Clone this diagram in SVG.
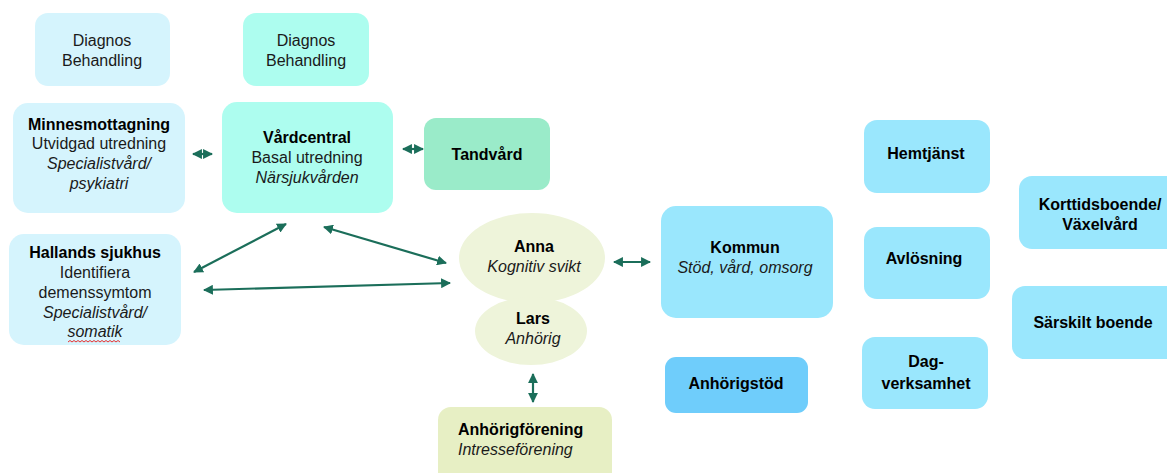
<svg xmlns="http://www.w3.org/2000/svg" width="1167" height="473" viewBox="0 0 1167 473">
<style>
text{font-family:"Liberation Sans",Arial,sans-serif;font-size:16px;fill:#1a1a1a;text-anchor:middle}
.b{font-weight:bold;fill:#000}
.i{font-style:italic}
.l{text-anchor:start}
.spec{fill:#d5f4fd}
.vc{fill:#adfdef}
.tand{fill:#9aebc9}
.pers{fill:#eef4da}
.for{fill:#e7efc4}
.kom{fill:#9ae7fd}
.stod{fill:#6fcdfb}
.c{stroke:#1b6e5a;stroke-width:2.2;fill:none;marker-start:url(#ah);marker-end:url(#ah)}
</style>
<defs>
<marker id="ah" viewBox="0 0 10 10" refX="9" refY="5" markerWidth="4.5" markerHeight="4.5" orient="auto-start-reverse" markerUnits="strokeWidth">
<path d="M0,0 L10,5 L0,10 Z" fill="#1b6e5a"/>
</marker>
</defs>
<rect width="1167" height="473" fill="#fff"/>
<g id="diagnos1"><rect class="spec" x="35" y="13" width="135" height="73" rx="13"/><text x="102" y="46">Diagnos</text><text x="102" y="66">Behandling</text></g>
<g id="diagnos2"><rect class="vc" x="243" y="13" width="126" height="73" rx="13"/><text x="306" y="46">Diagnos</text><text x="306" y="66">Behandling</text></g>
<g id="minnesmottagning"><rect class="spec" x="13" y="103" width="172" height="110" rx="15"/><text class="b" x="99" y="130">Minnesmottagning</text><text x="99" y="149">Utvidgad utredning</text><text class="i" x="99" y="169">Specialistvård/</text><text class="i" x="99" y="189">psykiatri</text></g>
<g id="vardcentral"><rect class="vc" x="222" y="102" width="171" height="111" rx="15"/><text class="b" x="307" y="143">Vårdcentral</text><text x="307" y="163">Basal utredning</text><text class="i" x="307" y="183">Närsjukvården</text></g>
<g id="tandvard"><rect class="tand" x="424" y="118" width="126" height="72" rx="12"/><text class="b" x="487" y="160">Tandvård</text></g>
<g id="hallands"><rect class="spec" x="9" y="234" width="172" height="111" rx="15"/><text class="b" x="95" y="258">Hallands sjukhus</text><text x="95" y="278">Identifiera</text><text x="95" y="298">demenssymtom</text><text class="i" x="95" y="318">Specialistvård/</text><text class="i" x="95" y="337">somatik</text><path d="M68,342 l2,-1.5 l2,1.5 l2,-1.5 l2,1.5 l2,-1.5 l2,1.5 l2,-1.5 l2,1.5 l2,-1.5 l2,1.5 l2,-1.5 l2,1.5 l2,-1.5 l2,1.5 l2,-1.5 l2,1.5 l2,-1.5 l2,1.5 l2,-1.5 l2,1.5 l2,-1.5 l2,1.5 l2,-1.5 l2,1.5 l2,-1.5 l2,1.5" fill="none" stroke="#e8302f" stroke-width="1"/></g>
<g id="anna"><ellipse class="pers" cx="532" cy="258" rx="73" ry="45"/><text class="b" x="534" y="252">Anna</text><text class="i" x="534" y="272">Kognitiv svikt</text></g>
<g id="lars"><ellipse class="pers" cx="531" cy="331" rx="56" ry="34"/><text class="b" x="533" y="324">Lars</text><text class="i" x="533" y="344">Anhörig</text></g>
<g id="kommun"><rect class="kom" x="661" y="206" width="172" height="112" rx="15"/><text class="b" x="745" y="253">Kommun</text><text class="i" x="745" y="273">Stöd, vård, omsorg</text></g>
<g id="anhorigforening"><rect class="for" x="438" y="407" width="174" height="80" rx="13"/><text class="b l" x="458" y="435">Anhörigförening</text><text class="i l" x="458" y="455">Intresseförening</text></g>
<g id="anhorigstod"><rect class="stod" x="665" y="357" width="143" height="56" rx="11"/><text class="b" x="736" y="389">Anhörigstöd</text></g>
<g id="hemtjanst"><rect class="kom" x="864" y="120" width="126" height="73" rx="13"/><text class="b" x="926" y="159">Hemtjänst</text></g>
<g id="avlosning"><rect class="kom" x="864" y="227" width="126" height="72" rx="13"/><text class="b" x="924" y="264">Avlösning</text></g>
<g id="dagverksamhet"><rect class="kom" x="862" y="337" width="126" height="72" rx="13"/><text class="b" x="926" y="367">Dag-</text><text class="b" x="926" y="389">verksamhet</text></g>
<g id="korttidsboende"><rect class="kom" x="1019" y="176" width="170" height="73" rx="13"/><text class="b" x="1100" y="210">Korttidsboende/</text><text class="b" x="1100" y="230">Växelvård</text></g>
<g id="sarskilt"><rect class="kom" x="1012" y="286" width="175" height="73" rx="13"/><text class="b" x="1093" y="328">Särskilt boende</text></g>
<g id="connectors">
<line class="c" x1="193" y1="154" x2="212" y2="154"/>
<line class="c" x1="403" y1="149" x2="423" y2="149"/>
<line class="c" x1="194" y1="272" x2="286" y2="224"/>
<line class="c" x1="324" y1="227" x2="446" y2="263"/>
<line class="c" x1="204" y1="290" x2="450" y2="283"/>
<line class="c" x1="614" y1="262" x2="650" y2="262"/>
<line class="c" x1="533" y1="374" x2="533" y2="402"/>
</g>
</svg>
